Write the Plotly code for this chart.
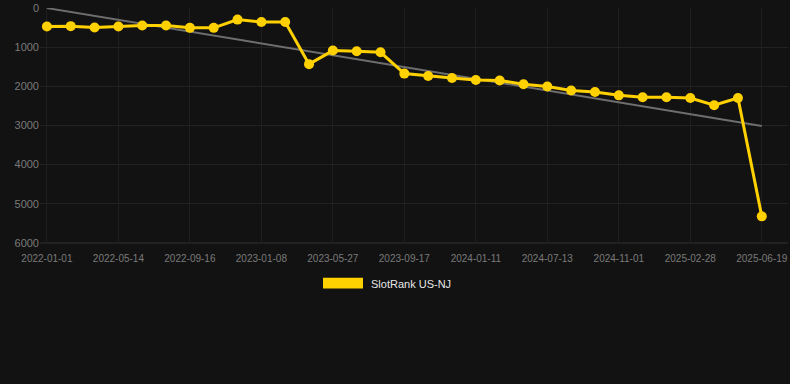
import plotly.graph_objects as go

tick_labels = ["2022-01-01", "2022-05-14", "2022-09-16", "2023-01-08", "2023-05-27",
               "2023-09-17", "2024-01-11", "2024-07-13", "2024-11-01", "2025-02-28", "2025-06-19"]
point_index = list(range(31))
rank_values = [472, 462, 497, 472, 447, 447, 505, 505, 295, 354, 354,
               1432, 1086, 1104, 1129, 1674, 1735, 1785, 1836, 1851, 1944,
               2003, 2104, 2146, 2230, 2280, 2280, 2298, 2482, 2298, 5321]
trend_x = [0, 30]
trend_y = [0, 3010]
y_ticks = [0, 1000, 2000, 3000, 4000, 5000, 6000]
series_name = "SlotRank US-NJ"

BG = "#121212"
YELLOW = "#FFD100"

fig = go.Figure()
fig.add_trace(go.Scatter(x=trend_x, y=trend_y, mode="lines",
                         line=dict(color="#6e6e6e", width=2), hoverinfo="skip", showlegend=False))
fig.add_trace(go.Scatter(x=point_index, y=rank_values, mode="lines+markers", name=series_name,
                         line=dict(color=YELLOW, width=3),
                         marker=dict(color=YELLOW, size=10), showlegend=False))

L, T, PW, PH = 40, 6, 748, 237
def px(x):
    return (x - L) / PW
def py(y):
    return (T + PH - y) / PH

fig.add_shape(type="rect", xref="paper", yref="paper",
              x0=px(323), x1=px(363), y0=py(289), y1=py(278),
              fillcolor=YELLOW, line=dict(width=0))
fig.add_annotation(xref="paper", yref="paper", x=px(369), y=py(284.5), text=series_name,
                   showarrow=False, xanchor="left", yanchor="middle",
                   font=dict(color="#e6e6e6", size=11, family="Liberation Sans, Arial, sans-serif"))

fig.update_layout(
    width=790, height=384,
    margin=dict(l=L, r=790 - L - PW, t=T, b=384 - T - PH),
    paper_bgcolor=BG, plot_bgcolor=BG,
    font=dict(family="Liberation Sans, Arial, sans-serif", color="#7a7a7a"),
    showlegend=False,
)
fig.update_xaxes(range=[-0.29, 31.1], tickmode="array",
                 tickvals=point_index[::3], ticktext=tick_labels,
                 showgrid=True, gridcolor="#1f1f1f", gridwidth=1,
                 zeroline=False, showline=False, ticks="",
                 ticklabelstandoff=8, ticklabeloverflow="allow",
                 tickfont=dict(size=10, color="#7a7a7a"))
fig.update_yaxes(range=[6002, -2], tickmode="array", tickvals=y_ticks,
                 showgrid=True, gridcolor="#222222", gridwidth=1,
                 zeroline=False, showline=False, ticks="",
                 ticklabeloverflow="allow",
                 tickfont=dict(size=11, color="#7a7a7a"))
fig.add_shape(type="line", xref="paper", yref="paper", x0=0, x1=1, y0=0, y1=0,
              line=dict(color="#333333", width=1), layer="below")

fig.write_html("out.html", config={"displayModeBar": False},
               post_script="document.body.style.margin='0';document.body.style.background='#121212';")
